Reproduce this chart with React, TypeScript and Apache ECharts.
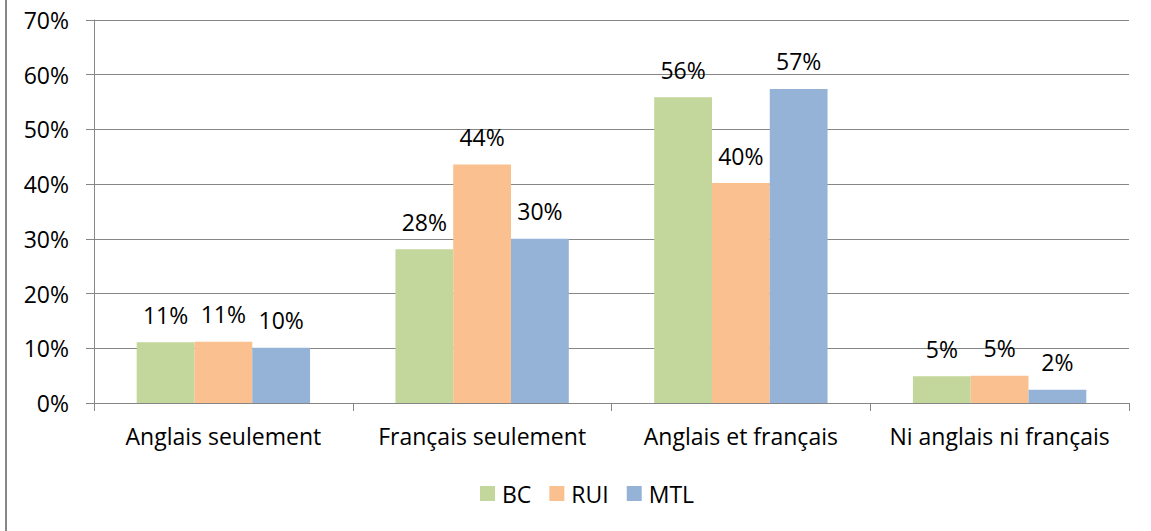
import React, { useEffect, useRef } from "react";
import * as echarts from "echarts";

const categories = ["Anglais seulement", "Français seulement", "Anglais et français", "Ni anglais ni français"];
const seriesNames = ["BC", "RUI", "MTL"];
const bcValues = [11.1, 28.1, 55.9, 4.9];
const ruiValues = [11.2, 43.6, 40.2, 5.0];
const mtlValues = [10.1, 30.0, 57.4, 2.4];
const yTicks = [0, 10, 20, 30, 40, 50, 60, 70];
const colors = ["#C3D69B", "#FAC090", "#95B3D7"];

const FONT = "Open Sans";
const FS = 23;

export default function App() {
  const ref = useRef<HTMLDivElement>(null);
  useEffect(() => {
    if (!ref.current) return;
    const chart = echarts.init(ref.current, null, { renderer: "svg" });
    const values = [bcValues, ruiValues, mtlValues];
    chart.setOption({
      animation: false,
      backgroundColor: "#ffffff",
      textStyle: { fontFamily: FONT, color: "#000" },
      grid: { left: 94, right: 22, top: 20, bottom: 128, containLabel: false },
      legend: {
        left: 480,
        top: 482,
        padding: 0,
        itemWidth: 15,
        itemHeight: 15,
        itemGap: 18,
        icon: "rect",
        textStyle: { fontFamily: FONT, fontSize: FS, color: "#000", padding: [0, 0, 0, 2] },
        data: seriesNames,
      },
      xAxis: {
        type: "category",
        data: categories,
        axisLine: { lineStyle: { color: "#868686", width: 1 } },
        axisTick: { show: true, length: 8, alignWithLabel: false, lineStyle: { color: "#868686" } },
        axisLabel: { fontFamily: FONT, fontSize: FS, color: "#000", margin: 21, interval: 0 },
      },
      yAxis: {
        type: "value",
        min: yTicks[0],
        max: yTicks[yTicks.length - 1],
        interval: 10,
        axisLine: { show: true, lineStyle: { color: "#868686", width: 1 } },
        axisTick: { show: true, length: 8, lineStyle: { color: "#868686" } },
        splitLine: { show: true, lineStyle: { color: "#868686", width: 1 } },
        axisLabel: { fontFamily: FONT, fontSize: FS, color: "#000", margin: 25, formatter: (v: number) => v + "%" },
      },
      graphic: [
        { type: "line", shape: { x1: 6, y1: 0, x2: 6, y2: 531 }, style: { stroke: "#868686", lineWidth: 2 } },
      ],
      series: seriesNames.map((name, i) => ({
        name,
        type: "bar",
        data: values[i],
        barGap: "0%",
        barCategoryGap: "33%",
        itemStyle: { color: colors[i] },
        label: {
          show: true,
          position: "top",
          distance: 16,
          fontFamily: FONT,
          fontSize: FS,
          color: "#000",
          formatter: (p: any) => Math.round(p.value) + "%",
        },
      })),
    });
    return () => chart.dispose();
  }, []);
  return <div ref={ref} style={{ position: "fixed", left: 0, top: 0, width: 1151, height: 531 }} />;
}
